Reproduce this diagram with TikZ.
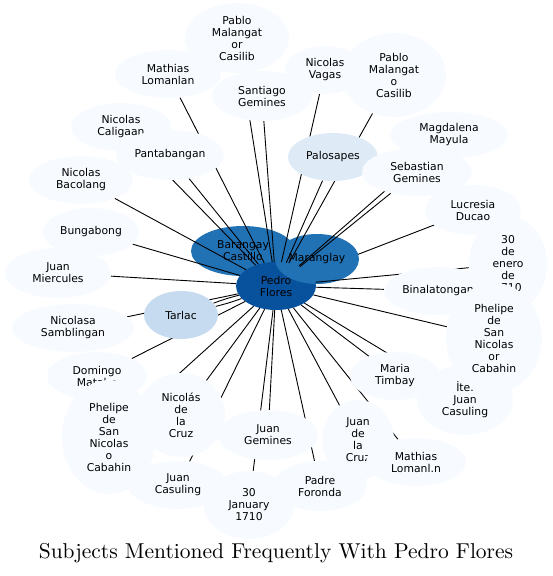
\documentclass[tikz,border=0pt]{standalone}
\usepackage{fontspec}
\usepackage{tikz}
\usetikzlibrary{shapes.geometric}
\newfontfamily\subjfamily{DejaVu Sans}
\newfontfamily\titlefamily{lmroman10-regular.otf}
\definecolor{paleblue}{HTML}{F7FBFF}
\definecolor{lightblue}{HTML}{DEEBF7}
\definecolor{midblue}{HTML}{C6DBEF}
\definecolor{hubblue}{HTML}{2171B5}
\definecolor{deepblue}{HTML}{08519C}
\pgfdeclarelayer{back}
\pgfdeclarelayer{low}
\pgfdeclarelayer{front}
\pgfsetlayers{back,low,main,front}
\tikzset{
  subj/.style={ellipse, fill=paleblue, inner sep=0pt, align=center,
    font=\subjfamily\fontsize{10.8}{12}\selectfont},
  dims/.style n args={2}{minimum width=#1pt, minimum height=#2pt},
  link/.style={line width=0.9pt},
}

\begin{document}
\begin{tikzpicture}[x=1pt,y=-1pt]
\useasboundingbox (0,0) rectangle (552,576);
\begin{pgfonlayer}{back}
\node[subj, fill=hubblue, dims={104}{50}] (barangay) at (243,251) {Barangay\\Castillo};
\node[subj, fill=deepblue, dims={80}{48}] (pedro) at (276,286) {Pedro\\Flores};
\end{pgfonlayer}
\begin{pgfonlayer}{front}
\node[subj, dims={104}{70}] (pabloc) at (237,38) {Pablo\\Malangat\\or\\Casilib};
\node[subj, dims={106}{48}] (mathiasl) at (168,74) {Mathias\\Lomanlan};
\node[subj, dims={100}{50}] (santiago) at (262,96) {Santiago\\Gemines};
\node[subj, dims={80}{48}] (vagas) at (325,70) {Nicolas\\Vagas};
\node[subj, dims={104}{84}] (pabloo) at (394,75) {Pablo\\Malangat\\o\\Casilib};
\node[subj, dims={118}{46}] (magdalena) at (449,135) {Magdalena\\Mayula};
\node[subj, fill=lightblue, dims={90}{48}] (palosapes) at (333,157) {Palosapes};
\node[subj, dims={110}{48}] (sebastian) at (417,172) {Sebastian\\Gemines};
\node[subj, dims={78}{96}] (enero) at (508,264) {30\\de\\enero\\de\\1710};
\node[subj, dims={96}{50}] (lucresia) at (473,210) {Lucresia\\Ducao};
\node[subj, dims={108}{48}] (binalatongan) at (438,291) {Binalatongan};
\node[subj, dims={96}{70}] (ite) at (465,400) {İte.\\Juan\\Casuling};
\node[subj, dims={96}{110}] (phelipeo) at (494,338) {Phelipe\\de\\San\\Nicolas\\or\\Cabahin};
\node[subj, dims={90}{48}] (maria) at (395,376) {Maria\\Timbay};
\node[subj, dims={72}{80}] (juancruz) at (358,440) {Juan\\de\\la\\Cruz};
\node[subj, dims={100}{48}] (mathiasn) at (416,462) {Mathias\\Lomanl.n};
\node[subj, dims={94}{50}] (foronda) at (320,486) {Padre\\Foronda};
\node[subj, dims={90}{68}] (january) at (249,505) {30\\January\\1710};
\node[subj, dims={100}{50}] (juangemines) at (268,435) {Juan\\Gemines};
\node[subj, dims={100}{48}] (juancasuling) at (178,485) {Juan\\Casuling};
\node[subj, dims={88}{84}] (nicolascruz) at (181,415) {Nicolás\\de\\la\\Cruz};
\node[subj, dims={100}{48}] (domingo) at (97,376) {Domingo\\Mataba};
\node[subj, dims={94}{114}] (phelipel) at (109,437) {Phelipe\\de\\San\\Nicolas\\o\\Cabahin};
\node[subj, dims={122}{48}] (nicolasa) at (73,328) {Nicolasa\\Samblingan};
\node[subj, fill=midblue, dims={74}{48}] (tarlac) at (181,315) {Tarlac};
\node[subj, dims={106}{50}] (miercules) at (58,273) {Juan\\Miercules};
\node[subj, dims={96}{48}] (bungabong) at (91,232) {Bungabong};
\node[subj, dims={104}{48}] (bacolang) at (81,180) {Nicolas\\Bacolang};
\node[subj, dims={100}{48}] (caligaan) at (121,127) {Nicolas\\Caligaan};
\node[subj, dims={108}{50}] (pantabangan) at (170,155) {Pantabangan};
\end{pgfonlayer}
\begin{pgfonlayer}{low}
\draw[link] (pedro) -- (lucresia);
\end{pgfonlayer}
\node[subj, fill=hubblue, dims={84}{50}] (maranglay) at (317,259) {Maranglay};
\foreach \t in {pabloc, mathiasl, santiago, vagas, pabloo, magdalena, palosapes,
  sebastian, enero, binalatongan, ite, phelipeo, maria, juancruz, mathiasn,
  foronda, january, juangemines, juancasuling, nicolascruz, domingo, phelipel,
  nicolasa, miercules, bungabong, bacolang, caligaan, pantabangan}
  \draw[link] (pedro) -- (\t);
\draw[link] (pedro) to[bend left=3] (tarlac);
\draw[link] (pedro) to[bend right=3] (tarlac);
\node[font=\titlefamily\fontsize{21.5}{24}\selectfont] (title) at (276,553) {Subjects Mentioned Frequently With Pedro Flores};
\end{tikzpicture}
\end{document}
